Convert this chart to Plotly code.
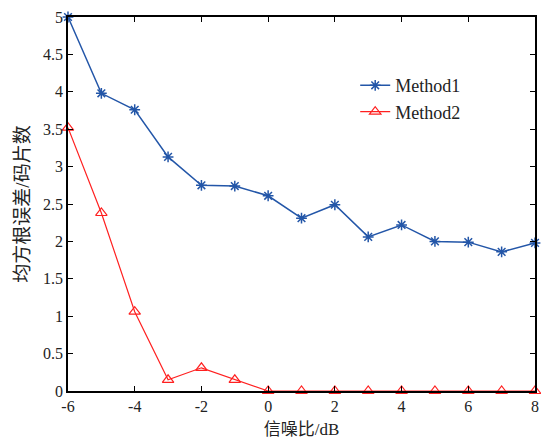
import plotly.graph_objects as go

snr = [-6, -5, -4, -3, -2, -1, 0, 1, 2, 3, 4, 5, 6, 7, 8]
method1 = [5.0, 3.98, 3.76, 3.13, 2.75, 2.74, 2.61, 2.31, 2.49, 2.06, 2.22, 2.0, 1.99, 1.86, 1.98]
method2 = [3.52, 2.38, 1.06, 0.15, 0.31, 0.15, 0, 0, 0, 0, 0, 0, 0, 0, 0]
x_ticks = [-6, -4, -2, 0, 2, 4, 6, 8]
x_labels = ["-6", "-4", "-2", "0", "2", "4", "6", "8"]
y_ticks = [0, 0.5, 1, 1.5, 2, 2.5, 3, 3.5, 4, 4.5, 5]
y_labels = ["0", "0.5", "1", "1.5", "2", "2.5", "3", "3.5", "4", "4.5", "5"]

font_fam = "Times New Roman, Liberation Serif, Noto Sans CJK SC, serif"

fig = go.Figure()
fig.add_trace(go.Scatter(x=snr, y=method1, mode="lines+markers", name="Method1",
                         line=dict(color="#2356a8", width=1.5),
                         marker=dict(symbol="asterisk-open", size=9, color="#2356a8",
                                     line=dict(color="#2356a8", width=1.5)),
                         cliponaxis=False))
fig.add_trace(go.Scatter(x=snr, y=method2, mode="lines+markers", name="Method2",
                         line=dict(color="#ff2020", width=1.2),
                         marker=dict(symbol="triangle-up-open", size=10, color="#ff2020",
                                     line=dict(color="#ff2020", width=1.2)),
                         cliponaxis=False))

fig.update_layout(
    width=533, height=431,
    margin=dict(l=60, r=6, t=9, b=48, autoexpand=False),
    paper_bgcolor="white", plot_bgcolor="white",
    font=dict(family=font_fam, size=16, color="#222"),
    showlegend=True,
    legend=dict(x=0.615, y=0.866, xanchor="left", yanchor="top",
                bgcolor="rgba(0,0,0,0)", borderwidth=0,
                font=dict(size=18, family=font_fam)),
    xaxis=dict(range=[-6, 8], tickvals=x_ticks, ticktext=x_labels, ticks="inside", ticklen=5,
               showline=True, linecolor="black", linewidth=1.5, mirror="ticks",
               showgrid=False, zeroline=False, tickcolor="black", ticklabeloverflow="allow",
               title=dict(text="信噪比/dB", font=dict(size=17), standoff=10)),
    yaxis=dict(range=[0, 5], tickvals=y_ticks, ticktext=y_labels, ticks="inside", ticklen=5,
               showline=True, linecolor="black", linewidth=1.5, mirror="ticks",
               showgrid=False, zeroline=False, tickcolor="black",
               title=dict(text="均方根误差/码片数", font=dict(size=19), standoff=8)),
)

fig.write_html("out.html")
